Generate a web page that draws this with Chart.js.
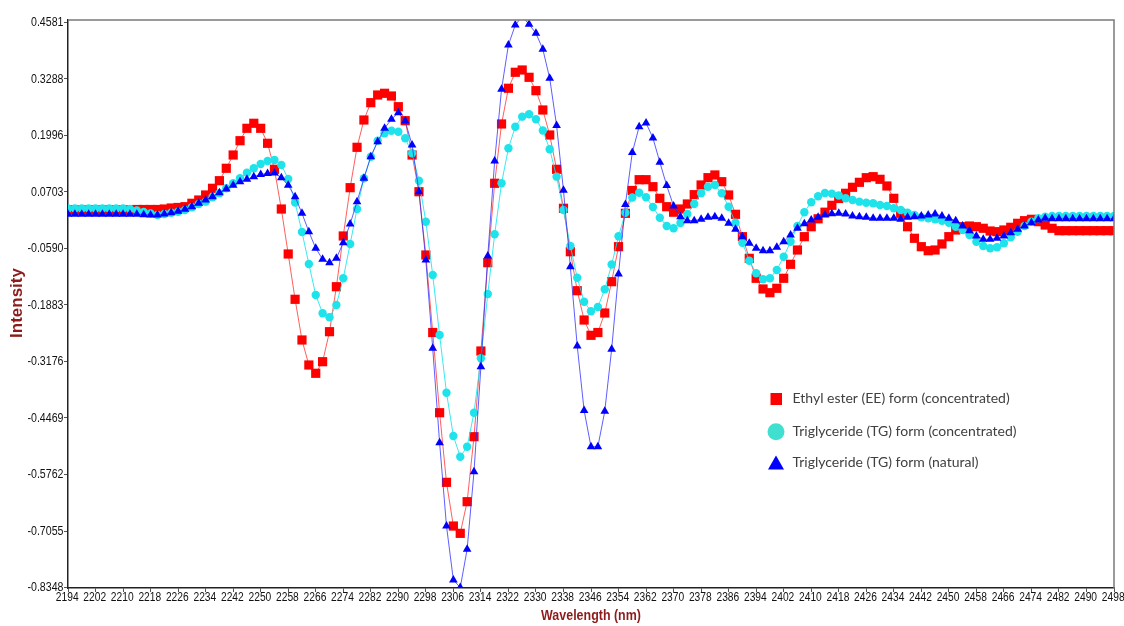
<!DOCTYPE html>
<html>
<head>
<meta charset="utf-8">
<title>NIR second-derivative spectra</title>
<script src="https://cdn.jsdelivr.net/npm/chart.js@4.4.0/dist/chart.umd.min.js"></script>
<style>
  html, body { margin: 0; padding: 0; background: #fff; }
  #wrap { width: 1124px; height: 626px; }
</style>
</head>
<body>
<div id="wrap"><canvas id="spectra" width="1124" height="626"></canvas></div>
<script>
// wavelength grid, 2 nm steps from 2194 to 2498
const wavelengths = [];
for (let w = 2194; w <= 2498; w += 2) wavelengths.push(w);

// Ethyl ester (EE) form (concentrated)
const eeConc = [
  0.0290, 0.0290, 0.0290, 0.0290, 0.0290, 0.0290, 0.0290, 0.0290, 0.0290, 0.0290,
  0.0302, 0.0302, 0.0302, 0.0302, 0.0313, 0.0336, 0.0348, 0.0366, 0.0444, 0.0519,
  0.0634, 0.0787, 0.0961, 0.1245, 0.1549, 0.1876, 0.2160, 0.2275, 0.2160, 0.1817,
  0.1222, 0.0313, -0.0716, -0.1753, -0.2684, -0.3256, -0.3446, -0.3181, -0.2494, -0.1465,
  -0.0304, 0.0801, 0.1725, 0.2350, 0.2746, 0.2922, 0.2961, 0.2899, 0.2654, 0.2334,
  0.1549, 0.0709, -0.0739, -0.2513, -0.4348, -0.5941, -0.6941, -0.7108, -0.6384, -0.4897,
  -0.2936, -0.0915, 0.0902, 0.2259, 0.3076, 0.3442, 0.3494, 0.3327, 0.3021, 0.2579,
  0.2007, 0.1222, 0.0330, -0.0664, -0.1556, -0.2227, -0.2577, -0.2513, -0.2066, -0.1350,
  -0.0549, 0.0215, 0.0737, 0.0984, 0.0984, 0.0824, 0.0558, 0.0366, 0.0240, 0.0313,
  0.0428, 0.0641, 0.0863, 0.1030, 0.1092, 0.0938, 0.0634, 0.0192, -0.0320, -0.0815,
  -0.1272, -0.1517, -0.1602, -0.1501, -0.1272, -0.0952, -0.0625, -0.0320, -0.0092, 0.0089,
  0.0240, 0.0398, 0.0554, 0.0673, 0.0810, 0.0924, 0.1030, 0.1053, 0.0993, 0.0840,
  0.0558, 0.0215, -0.0092, -0.0357, -0.0549, -0.0641, -0.0625, -0.0487, -0.0320, -0.0167,
  -0.0092, -0.0076, -0.0092, -0.0128, -0.0190, -0.0206, -0.0167, -0.0105, -0.0014, 0.0046,
  0.0078, 0.0023, -0.0053, -0.0128, -0.0183, -0.0183, -0.0183, -0.0183, -0.0183, -0.0183,
  -0.0183, -0.0183, -0.0183
];

// Triglyceride (TG) form (concentrated)
const tgConc = [
  0.0325, 0.0325, 0.0325, 0.0325, 0.0325, 0.0325, 0.0325, 0.0325, 0.0325, 0.0313,
  0.0279, 0.0245, 0.0211, 0.0176, 0.0199, 0.0229, 0.0252, 0.0291, 0.0352, 0.0428,
  0.0481, 0.0581, 0.0673, 0.0787, 0.0902, 0.1016, 0.1144, 0.1245, 0.1343, 0.1412,
  0.1435, 0.1320, 0.1000, 0.0462, -0.0213, -0.0945, -0.1654, -0.2073, -0.2165, -0.1883,
  -0.1272, -0.0487, 0.0313, 0.1016, 0.1510, 0.1876, 0.2046, 0.2105, 0.2082, 0.1931,
  0.1588, 0.0961, 0.0023, -0.1197, -0.2570, -0.3890, -0.4881, -0.5355, -0.5126, -0.4348,
  -0.3103, -0.1632, -0.0265, 0.0902, 0.1703, 0.2197, 0.2426, 0.2481, 0.2366, 0.2110,
  0.1680, 0.1053, 0.0291, -0.0533, -0.1261, -0.1808, -0.2027, -0.1929, -0.1524, -0.0957,
  -0.0311, 0.0229, 0.0577, 0.0686, 0.0581, 0.0359, 0.0112, -0.0076, -0.0128, -0.0007,
  0.0199, 0.0428, 0.0673, 0.0824, 0.0863, 0.0673, 0.0366, 0.0000, -0.0458, -0.0870,
  -0.1158, -0.1295, -0.1272, -0.1082, -0.0778, -0.0435, -0.0076, 0.0240, 0.0469, 0.0604,
  0.0680, 0.0664, 0.0622, 0.0558, 0.0519, 0.0481, 0.0458, 0.0444, 0.0405, 0.0382,
  0.0329, 0.0291, 0.0229, 0.0176, 0.0124, 0.0101, 0.0078, 0.0046, 0.0000, -0.0092,
  -0.0167, -0.0281, -0.0435, -0.0533, -0.0586, -0.0563, -0.0471, -0.0334, -0.0206, -0.0076,
  0.0023, 0.0101, 0.0137, 0.0153, 0.0153, 0.0153, 0.0153, 0.0153, 0.0153, 0.0153,
  0.0153, 0.0153, 0.0153
];

// Triglyceride (TG) form (natural)
const tgNatural = [
  0.0192, 0.0192, 0.0192, 0.0192, 0.0192, 0.0192, 0.0192, 0.0192, 0.0192, 0.0192,
  0.0192, 0.0183, 0.0176, 0.0176, 0.0199, 0.0229, 0.0261, 0.0307, 0.0366, 0.0444,
  0.0519, 0.0595, 0.0686, 0.0771, 0.0856, 0.0938, 0.0993, 0.1053, 0.1103, 0.1126,
  0.1137, 0.1027, 0.0856, 0.0595, 0.0215, -0.0206, -0.0586, -0.0837, -0.0915, -0.0815,
  -0.0458, -0.0030, 0.0481, 0.1016, 0.1510, 0.1854, 0.2160, 0.2366, 0.2517, 0.2327,
  0.1778, 0.0709, -0.0854, -0.2874, -0.5034, -0.6941, -0.8176, -0.8348, -0.7474, -0.5698,
  -0.3295, -0.0762, 0.1412, 0.3053, 0.4066, 0.4524, 0.4720, 0.4540, 0.4334, 0.3968,
  0.3304, 0.2224, 0.0741, -0.1007, -0.2821, -0.4297, -0.5126, -0.5126, -0.4316, -0.2897,
  -0.1174, 0.0416, 0.1606, 0.2197, 0.2281, 0.1938, 0.1384, 0.0851, 0.0382, 0.0137,
  0.0046, 0.0046, 0.0078, 0.0124, 0.0137, 0.0101, -0.0014, -0.0151, -0.0320, -0.0471,
  -0.0586, -0.0641, -0.0641, -0.0563, -0.0435, -0.0281, -0.0128, -0.0023, 0.0062, 0.0126,
  0.0176, 0.0206, 0.0215, 0.0199, 0.0153, 0.0137, 0.0124, 0.0101, 0.0101, 0.0101,
  0.0101, 0.0078, 0.0124, 0.0137, 0.0153, 0.0176, 0.0199, 0.0153, 0.0101, 0.0046,
  -0.0076, -0.0183, -0.0304, -0.0380, -0.0380, -0.0357, -0.0304, -0.0229, -0.0151, -0.0076,
  0.0000, 0.0062, 0.0101, 0.0092, 0.0092, 0.0092, 0.0092, 0.0092, 0.0092, 0.0092,
  0.0092, 0.0092, 0.0092
];

const xTicks = [
  2194, 2202, 2210, 2218, 2226, 2234, 2242, 2250, 2258, 2266, 2274, 2282, 2290,
  2298, 2306, 2314, 2322, 2330, 2338, 2346, 2354, 2362, 2370, 2378, 2386, 2394,
  2402, 2410, 2418, 2426, 2434, 2442, 2450, 2458, 2466, 2474, 2482, 2490, 2498
];
const yTickLabels = [
  '0.4581', '0.3288', '0.1996', '0.0703', '-0.0590', '-0.1883',
  '-0.3176', '-0.4469', '-0.5762', '-0.7055', '-0.8348'
];
const yTicks = yTickLabels.map(Number);

const seriesNames = [
  'Ethyl ester (EE) form (concentrated)',
  'Triglyceride (TG) form (concentrated)',
  'Triglyceride (TG) form (natural)'
];

const toPoints = vals => wavelengths.map((w, i) => ({ x: w, y: vals[i] }));

const titleColor = '#8e1b1b';
const NARROW = 0.85; // horizontal squeeze for the narrow axis lettering

// tick labels, axis titles, gray frame and the legend box inside the plot
const decorations = {
  id: 'decorations',
  afterDraw(chart) {
    const ctx = chart.ctx;
    const a = chart.chartArea;
    const xs = chart.scales.x;
    const ys = chart.scales.y;

    ctx.save();
    ctx.strokeStyle = '#7a7a7a';
    ctx.lineWidth = 1.5;
    ctx.beginPath();
    ctx.moveTo(a.left, a.top);
    ctx.lineTo(a.right, a.top);
    ctx.lineTo(a.right, a.bottom);
    ctx.stroke();
    ctx.restore();

    // tick labels
    ctx.save();
    ctx.fillStyle = '#111';
    ctx.font = '12.5px "Liberation Sans", Arial, sans-serif';
    ctx.textBaseline = 'middle';
    ctx.textAlign = 'center';
    xTicks.forEach(v => {
      ctx.save();
      ctx.translate(xs.getPixelForValue(v) - 0.8, 598);
      ctx.scale(0.82, 1);
      ctx.fillText(String(v), 0, 0);
      ctx.restore();
    });
    ctx.textAlign = 'right';
    yTicks.forEach((v, i) => {
      ctx.save();
      ctx.translate(63.5, ys.getPixelForValue(v) + 0.5);
      ctx.scale(NARROW, 1);
      ctx.fillText(yTickLabels[i], 0, 0);
      ctx.restore();
    });
    ctx.restore();

    // titles
    ctx.save();
    ctx.fillStyle = titleColor;
    ctx.font = 'bold 15px "Liberation Sans", Arial, sans-serif';
    ctx.textAlign = 'center';
    ctx.textBaseline = 'middle';
    ctx.translate(591, 616);
    ctx.scale(0.83, 1);
    ctx.fillText('Wavelength (nm)', 0, 0);
    ctx.restore();

    ctx.save();
    ctx.fillStyle = titleColor;
    ctx.font = 'bold 17px "Liberation Sans", Arial, sans-serif';
    ctx.textAlign = 'center';
    ctx.textBaseline = 'middle';
    ctx.translate(18, 303);
    ctx.rotate(-Math.PI / 2);
    ctx.scale(1, 0.95);
    ctx.fillText('Intensity', 0, 0);
    ctx.restore();

    // legend
    ctx.save();
    ctx.fillStyle = '#ff0000';
    ctx.fillRect(770.5, 393, 11.5, 12);
    ctx.fillStyle = '#40e0d0';
    ctx.beginPath();
    ctx.arc(776, 431.7, 8.5, 0, Math.PI * 2);
    ctx.fill();
    ctx.fillStyle = '#0000ff';
    ctx.beginPath();
    ctx.moveTo(776, 455.5);
    ctx.lineTo(784, 469.5);
    ctx.lineTo(768, 469.5);
    ctx.closePath();
    ctx.fill();

    ctx.fillStyle = '#404040';
    ctx.font = '14px Lato, "Open Sans", sans-serif';
    ctx.textAlign = 'left';
    ctx.textBaseline = 'alphabetic';
    ctx.fillText(seriesNames[0], 792.5, 403);
    ctx.fillText(seriesNames[1], 792.5, 436);
    ctx.fillText(seriesNames[2], 792.5, 467);
    ctx.restore();
  }
};

new Chart(document.getElementById('spectra'), {
  type: 'line',
  data: {
    datasets: [
      {
        label: seriesNames[0],
        data: toPoints(eeConc),
        borderColor: 'rgba(255, 40, 40, 0.75)',
        backgroundColor: '#ff0000',
        pointBackgroundColor: '#ff0000',
        pointStyle: 'rect',
        pointRadius: 6.5,
        order: 3
      },
      {
        label: seriesNames[1],
        data: toPoints(tgConc),
        borderColor: 'rgba(20, 230, 240, 0.85)',
        backgroundColor: '#1fe3eb',
        pointBackgroundColor: '#1fe3eb',
        pointStyle: 'circle',
        pointRadius: 4.2,
        order: 2
      },
      {
        label: seriesNames[2],
        data: toPoints(tgNatural),
        borderColor: 'rgba(40, 40, 255, 0.75)',
        backgroundColor: '#0000ff',
        pointBackgroundColor: '#0000ff',
        pointStyle: 'triangle',
        pointRadius: 5,
        order: 1
      }
    ]
  },
  options: {
    responsive: false,
    animation: false,
    events: [],
    layout: { padding: { left: 0, right: 10, top: 20, bottom: 0 } },
    elements: {
      line: { borderWidth: 1, tension: 0 },
      point: { borderWidth: 0, hoverRadius: 0 }
    },
    plugins: {
      legend: { display: false },
      tooltip: { enabled: false }
    },
    scales: {
      x: {
        type: 'linear',
        min: 2194,
        max: 2498,
        afterBuildTicks: s => { s.ticks = xTicks.map(v => ({ value: v })); },
        afterFit: s => { s.height = 38; },
        border: { display: true, color: '#222', width: 1.5 },
        grid: { drawOnChartArea: false, drawTicks: true, tickLength: 4, color: '#555' },
        ticks: { display: false, autoSkip: false, maxRotation: 0 }
      },
      y: {
        type: 'linear',
        min: -0.8359,
        max: 0.4638,
        afterBuildTicks: s => { s.ticks = yTicks.map(v => ({ value: v })); },
        afterFit: s => { s.width = 68; },
        border: { display: true, color: '#222', width: 1.5 },
        grid: { drawOnChartArea: false, drawTicks: true, tickLength: 4, color: '#555' },
        ticks: { display: false }
      }
    }
  },
  plugins: [decorations]
});
</script>
</body>
</html>
